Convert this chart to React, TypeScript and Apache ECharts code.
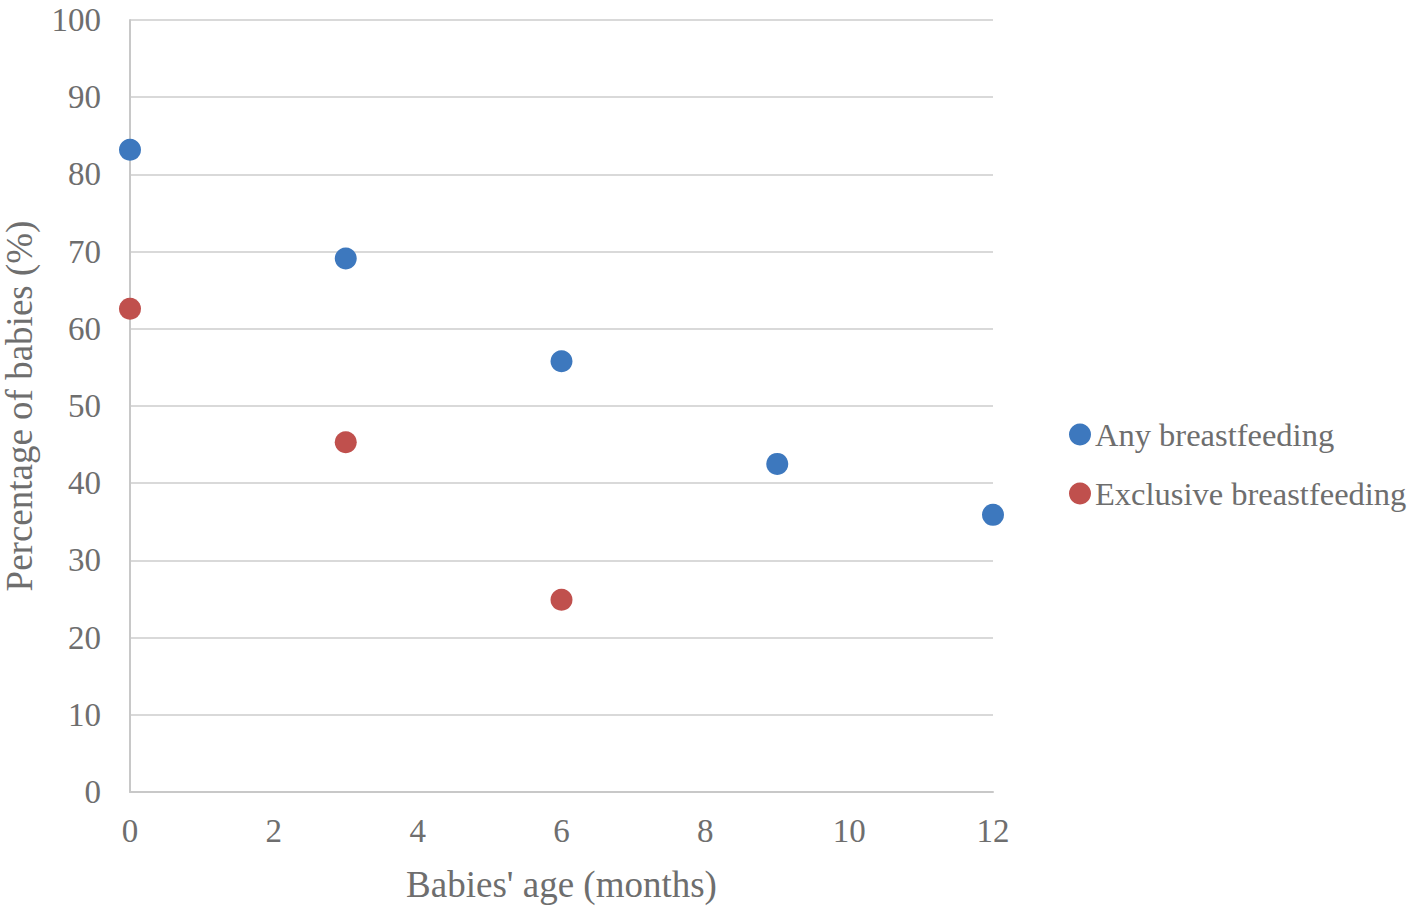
import React, { useEffect, useRef } from "react";
import * as echarts from "echarts";

const ages = [0, 3, 6, 9, 12];
const anyBreastfeeding = [83.2, 69.1, 55.8, 42.5, 35.9];
const exclusiveAges = [0, 3, 6];
const exclusiveBreastfeeding = [62.6, 45.3, 24.9];
const seriesNames = ["Any breastfeeding", "Exclusive breastfeeding"];

const textColor = "#6e6e6e";
const font = "'Liberation Serif', 'Times New Roman', serif";

export default function App() {
  const ref = useRef<HTMLDivElement>(null);
  useEffect(() => {
    if (!ref.current) return;
    const chart = echarts.init(ref.current, undefined, { renderer: "svg" });
    chart.setOption({
      animation: false,
      textStyle: { fontFamily: font },
      grid: {
        left: 130,
        right: 428,
        top: 20,
        bottom: 116,
        containLabel: false,
        outerBoundsMode: "none",
      },
      legend: {
        orient: "vertical",
        left: 1064,
        top: 413,
        icon: "circle",
        itemWidth: 22,
        itemHeight: 22,
        itemGap: 26,
        textStyle: { color: textColor, fontSize: 32.5, fontFamily: font, padding: [0, 0, 0, -1] },
        data: seriesNames,
      },
      xAxis: {
        type: "value",
        min: 0,
        max: 12,
        interval: 2,
        name: "Babies' age (months)",
        nameLocation: "middle",
        nameGap: 74,
        nameTextStyle: { color: textColor, fontSize: 37, fontFamily: font },
        axisLine: { show: true, lineStyle: { color: "#c8c8c8", width: 2 } },
        axisTick: { show: false },
        axisLabel: { color: textColor, fontSize: 33, fontFamily: font, margin: 22 },
        splitLine: { show: false },
      },
      yAxis: {
        type: "value",
        min: 0,
        max: 100,
        interval: 10,
        name: "Percentage of babies (%)",
        nameLocation: "middle",
        nameGap: 92,
        nameTextStyle: { color: textColor, fontSize: 37, fontFamily: font },
        axisLine: { show: true, lineStyle: { color: "#c8c8c8", width: 2 } },
        axisTick: { show: false },
        axisLabel: { color: textColor, fontSize: 33, fontFamily: font, margin: 29 },
        splitLine: { show: true, lineStyle: { color: "#d9d9d9", width: 2 } },
      },
      series: [
        {
          name: seriesNames[0],
          type: "scatter",
          symbolSize: 22,
          itemStyle: { color: "#3d78be", opacity: 1 },
          data: ages.map((a, i) => [a, anyBreastfeeding[i]]),
        },
        {
          name: seriesNames[1],
          type: "scatter",
          symbolSize: 22,
          itemStyle: { color: "#c0504d", opacity: 1 },
          data: exclusiveAges.map((a, i) => [a, exclusiveBreastfeeding[i]]),
        },
      ],
    });
    return () => chart.dispose();
  }, []);
  return (
    <div
      ref={ref}
      style={{ position: "absolute", left: 0, top: 0, width: 1421, height: 908, background: "#fff" }}
    />
  );
}
